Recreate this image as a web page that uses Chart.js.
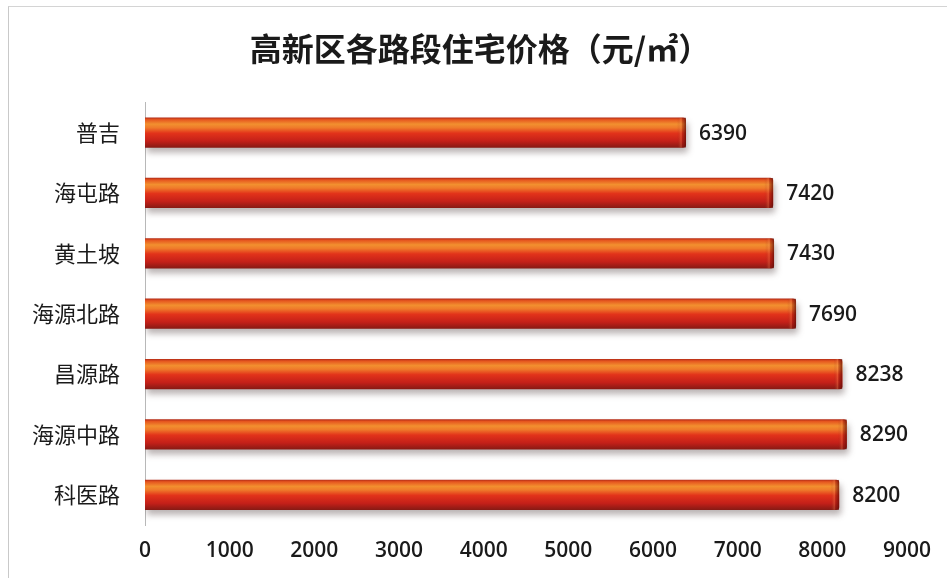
<!DOCTYPE html>
<html>
<head>
<meta charset="utf-8">
<script src="https://cdn.jsdelivr.net/npm/chart.js@4.4.1/dist/chart.umd.min.js"></script>
<style>
  html, body { margin: 0; padding: 0; background: #ffffff; }
  #wrap { position: relative; width: 947px; height: 578px; }
  #frame { position: absolute; left: 8px; top: 6px; right: -2px; bottom: -2px;
           border-left: 1px solid #c9c9c9; border-top: 1px solid #d4d4d4; pointer-events: none; }
  canvas { display: block; }
</style>
</head>
<body>
<div id="wrap">
  <canvas id="chart" width="947" height="578"></canvas>
  <div id="frame"></div>
</div>
<script>
// Road sections in the high-tech zone and their housing prices (yuan per square metre)
const categories = ['普吉', '海屯路', '黄土坡', '海源北路', '昌源路', '海源中路', '科医路'];
const prices = [6390, 7420, 7430, 7690, 8238, 8290, 8200];
const axisMin = 0;
const axisMax = 9000;
const axisStep = 1000;

const CAT_PCT = 1.0;
const BAR_PCT = 0.5;

// Cylinder-like vertical shading for each bar
function barGradient(context) {
  const chart = context.chart;
  const yScale = chart.scales && chart.scales.y;
  if (context.type !== 'data' || !yScale || !chart.chartArea) return '#e03018';
  const c = yScale.getPixelForValue(context.dataIndex);
  const half = (yScale.height / categories.length) * CAT_PCT * BAR_PCT / 2;
  const g = chart.ctx.createLinearGradient(0, c - half, 0, c + half);
  g.addColorStop(0.00, '#b32a16');
  g.addColorStop(0.07, '#e6561f');
  g.addColorStop(0.22, '#f2902f');
  g.addColorStop(0.34, '#ef7a2a');
  g.addColorStop(0.52, '#e2331a');
  g.addColorStop(0.78, '#c42019');
  g.addColorStop(1.00, '#861a14');
  return g;
}

// Soft drop shadow under the bars
const barShadow = {
  id: 'barShadow',
  beforeDatasetsDraw(chart) {
    const ctx = chart.ctx;
    ctx.save();
    ctx.shadowColor = 'rgba(60,40,40,0.35)';
    ctx.shadowBlur = 6;
    ctx.shadowOffsetX = 2;
    ctx.shadowOffsetY = 5;
  },
  afterDatasetsDraw(chart) {
    chart.ctx.restore();
  }
};

// Darkened bevelled end cap and value labels
const barDecor = {
  id: 'barDecor',
  afterDatasetsDraw(chart) {
    const ctx = chart.ctx;
    const meta = chart.getDatasetMeta(0);
    meta.data.forEach((el, i) => {
      const p = el.getProps(['x', 'y', 'base', 'height'], true);
      const top = p.y - p.height / 2;
      ctx.save();
      ctx.beginPath();
      ctx.rect(p.base, top, p.x - p.base, p.height);
      ctx.clip();
      const cap = ctx.createLinearGradient(p.x - 9, 0, p.x, 0);
      cap.addColorStop(0, 'rgba(120,20,10,0)');
      cap.addColorStop(0.45, 'rgba(250,150,90,0.3)');
      cap.addColorStop(0.6, 'rgba(130,20,10,0.35)');
      cap.addColorStop(1, 'rgba(90,10,5,0.75)');
      ctx.fillStyle = cap;
      ctx.fillRect(p.x - 9, top, 9, p.height);
      ctx.restore();

      ctx.save();
      ctx.font = '600 21px "Open Sans", "Liberation Sans", sans-serif';
      ctx.fillStyle = '#1a1a1a';
      ctx.textAlign = 'left';
      ctx.textBaseline = 'middle';
      ctx.fillText(String(prices[i]), p.x + 13, p.y + 1);
      ctx.restore();
    });
  }
};

// Centre the title over the area right of the frame edge
const titleOffset = {
  id: 'titleOffset',
  afterLayout(chart) {
    if (chart.titleBlock) chart.titleBlock.left = 51;
  }
};

new Chart(document.getElementById('chart'), {
  type: 'bar',
  data: {
    labels: categories,
    datasets: [{
      data: prices,
      backgroundColor: barGradient,
      borderWidth: 0,
      borderRadius: { topRight: 3, bottomRight: 3, topLeft: 0, bottomLeft: 0 },
      borderSkipped: false,
      categoryPercentage: CAT_PCT,
      barPercentage: BAR_PCT
    }]
  },
  options: {
    indexAxis: 'y',
    responsive: false,
    animation: false,
    devicePixelRatio: 1,
    layout: { padding: { left: 0, right: 38, top: 0, bottom: 0 } },
    plugins: {
      legend: { display: false },
      tooltip: { enabled: false },
      title: {
        display: true,
        text: '高新区各路段住宅价格（元/㎡）',
        color: '#1a1a1a',
        font: { family: '"Noto Sans CJK SC", sans-serif', size: 32, weight: 'bold', lineHeight: 1.2 },
        padding: { top: 30, bottom: 34 }
      }
    },
    scales: {
      x: {
        min: axisMin,
        max: axisMax,
        ticks: {
          stepSize: axisStep,
          callback: (v) => String(v),
          color: '#1a1a1a',
          padding: 16,
          maxRotation: 0,
          font: { family: '"Open Sans", "Liberation Sans", sans-serif', size: 21, weight: '600', lineHeight: 1.0 }
        },
        grid: { display: false, drawTicks: false },
        border: { display: false }
      },
      y: {
        afterFit(scale) { scale.width = 145; },
        ticks: {
          color: '#1a1a1a',
          padding: 25,
          font: { family: '"Noto Sans CJK SC", sans-serif', size: 22, weight: 'normal', lineHeight: 1.2 }
        },
        grid: { display: false, drawTicks: false },
        border: { display: true, color: '#b8b8b8', width: 1 }
      }
    }
  },
  plugins: [barShadow, barDecor, titleOffset]
});
</script>
</body>
</html>
